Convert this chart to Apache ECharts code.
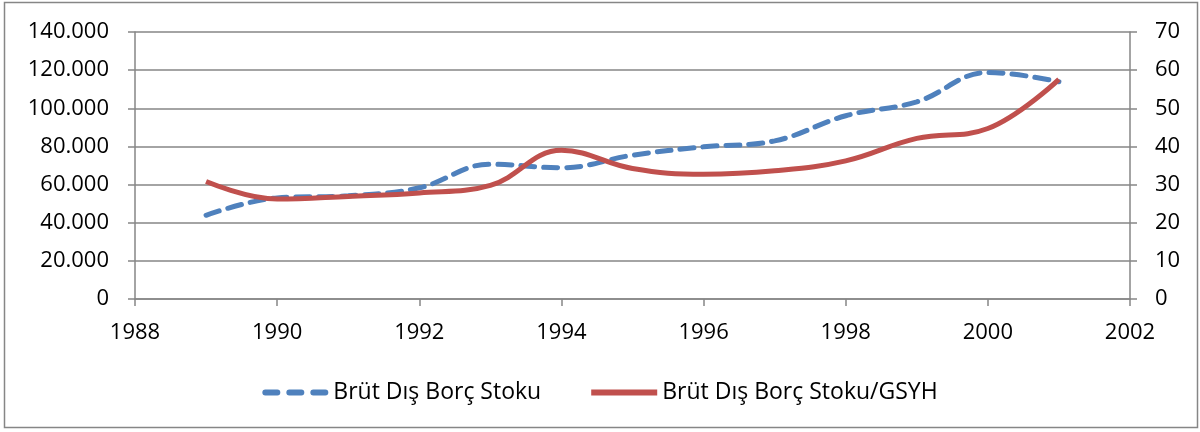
<!DOCTYPE html>
<html>
<head>
<meta charset="utf-8">
<script src="https://cdn.jsdelivr.net/npm/echarts@6/dist/echarts.min.js"></script>
<style>
  html, body { margin: 0; padding: 0; background: #fff; }
  #main { width: 1200px; height: 432px; }
</style>
</head>
<body>
<div id="main"></div>
<script>
// yıllar ve seriler
var years = [1989, 1990, 1991, 1992, 1993, 1994, 1995, 1996, 1997, 1998, 1999, 2000, 2001];
var borcStoku = [43900, 53000, 54100, 58300, 70700, 68800, 75400, 79800, 82900, 96100, 103400, 118800, 113900];
var borcGsyh = [30.8, 26.2, 26.9, 27.8, 29.8, 39.0, 34.2, 32.7, 33.6, 36.2, 42.1, 44.7, 57.6];
var seriesNames = ["Brüt Dış Borç Stoku", "Brüt Dış Borç Stoku/GSYH"];

var FONT = "Open Sans";
var GRAY = "#868686";
var FS = 22;

function trFormat(v) {
  return String(v).replace(/\B(?=(\d{3})+(?!\d))/g, ".");
}

function pairs(vals) {
  return years.map(function (y, i) { return [y, vals[i]]; });
}

var myChart = echarts.init(document.getElementById("main"));

myChart.setOption({
  animation: false,
  textStyle: { fontFamily: FONT },
  graphic: [
    {
      type: "rect",
      shape: { x: 4.5, y: 2.5, width: 1193, height: 425 },
      style: { fill: null, stroke: GRAY, lineWidth: 1.5 },
      silent: true
    }
  ],
  grid: { left: 135, right: 70, top: 32, bottom: 133 },
  legend: {
    data: [
      { name: seriesNames[0], icon: "path://M3,0h12a3,3 0 0 1 0,6h-12a3,3 0 0 1 0,-6z M27,0h12a3,3 0 0 1 0,6h-12a3,3 0 0 1 0,-6z M51,0h12a3,3 0 0 1 0,6h-12a3,3 0 0 1 0,-6z" },
      { name: seriesNames[1], icon: "rect" }
    ],
    left: "center",
    top: 376,
    itemWidth: 66,
    itemHeight: 6,
    itemGap: 50,
    textStyle: { fontSize: 23, color: "#000", fontFamily: FONT }
  },
  xAxis: {
    type: "value",
    min: 1988,
    max: 2002,
    interval: 2,
    axisLine: { lineStyle: { color: GRAY, width: 1.5 } },
    axisTick: { show: true, length: 7, lineStyle: { color: GRAY, width: 1.5 } },
    axisLabel: { color: "#000", fontSize: FS, margin: 23, formatter: function (v) { return String(v); } },
    splitLine: { show: false }
  },
  yAxis: [
    {
      type: "value",
      min: 0,
      max: 140000,
      interval: 20000,
      axisLine: { show: true, lineStyle: { color: GRAY, width: 1.5 } },
      axisTick: { show: true, length: 7, lineStyle: { color: GRAY, width: 1.5 } },
      axisLabel: { color: "#000", fontSize: FS, margin: 26, formatter: trFormat },
      splitLine: { lineStyle: { color: GRAY, width: 1.5 } }
    },
    {
      type: "value",
      min: 0,
      max: 70,
      interval: 10,
      position: "right",
      axisLine: { show: true, lineStyle: { color: GRAY, width: 1.5 } },
      axisTick: { show: true, length: 7, lineStyle: { color: GRAY, width: 1.5 } },
      axisLabel: { color: "#000", fontSize: FS, margin: 25 },
      splitLine: { show: false }
    }
  ],
  series: [
    {
      name: seriesNames[0],
      type: "line",
      yAxisIndex: 0,
      data: pairs(borcStoku),
      smooth: 0.4,
      symbol: "none",
      itemStyle: { color: "#4F81BD" },
      lineStyle: { color: "#4F81BD", width: 5, type: [14, 9], cap: "round" }
    },
    {
      name: seriesNames[1],
      type: "line",
      yAxisIndex: 1,
      data: pairs(borcGsyh),
      smooth: 0.4,
      symbol: "none",
      itemStyle: { color: "#C0504D" },
      lineStyle: { color: "#C0504D", width: 5 }
    }
  ]
});
</script>
</body>
</html>
